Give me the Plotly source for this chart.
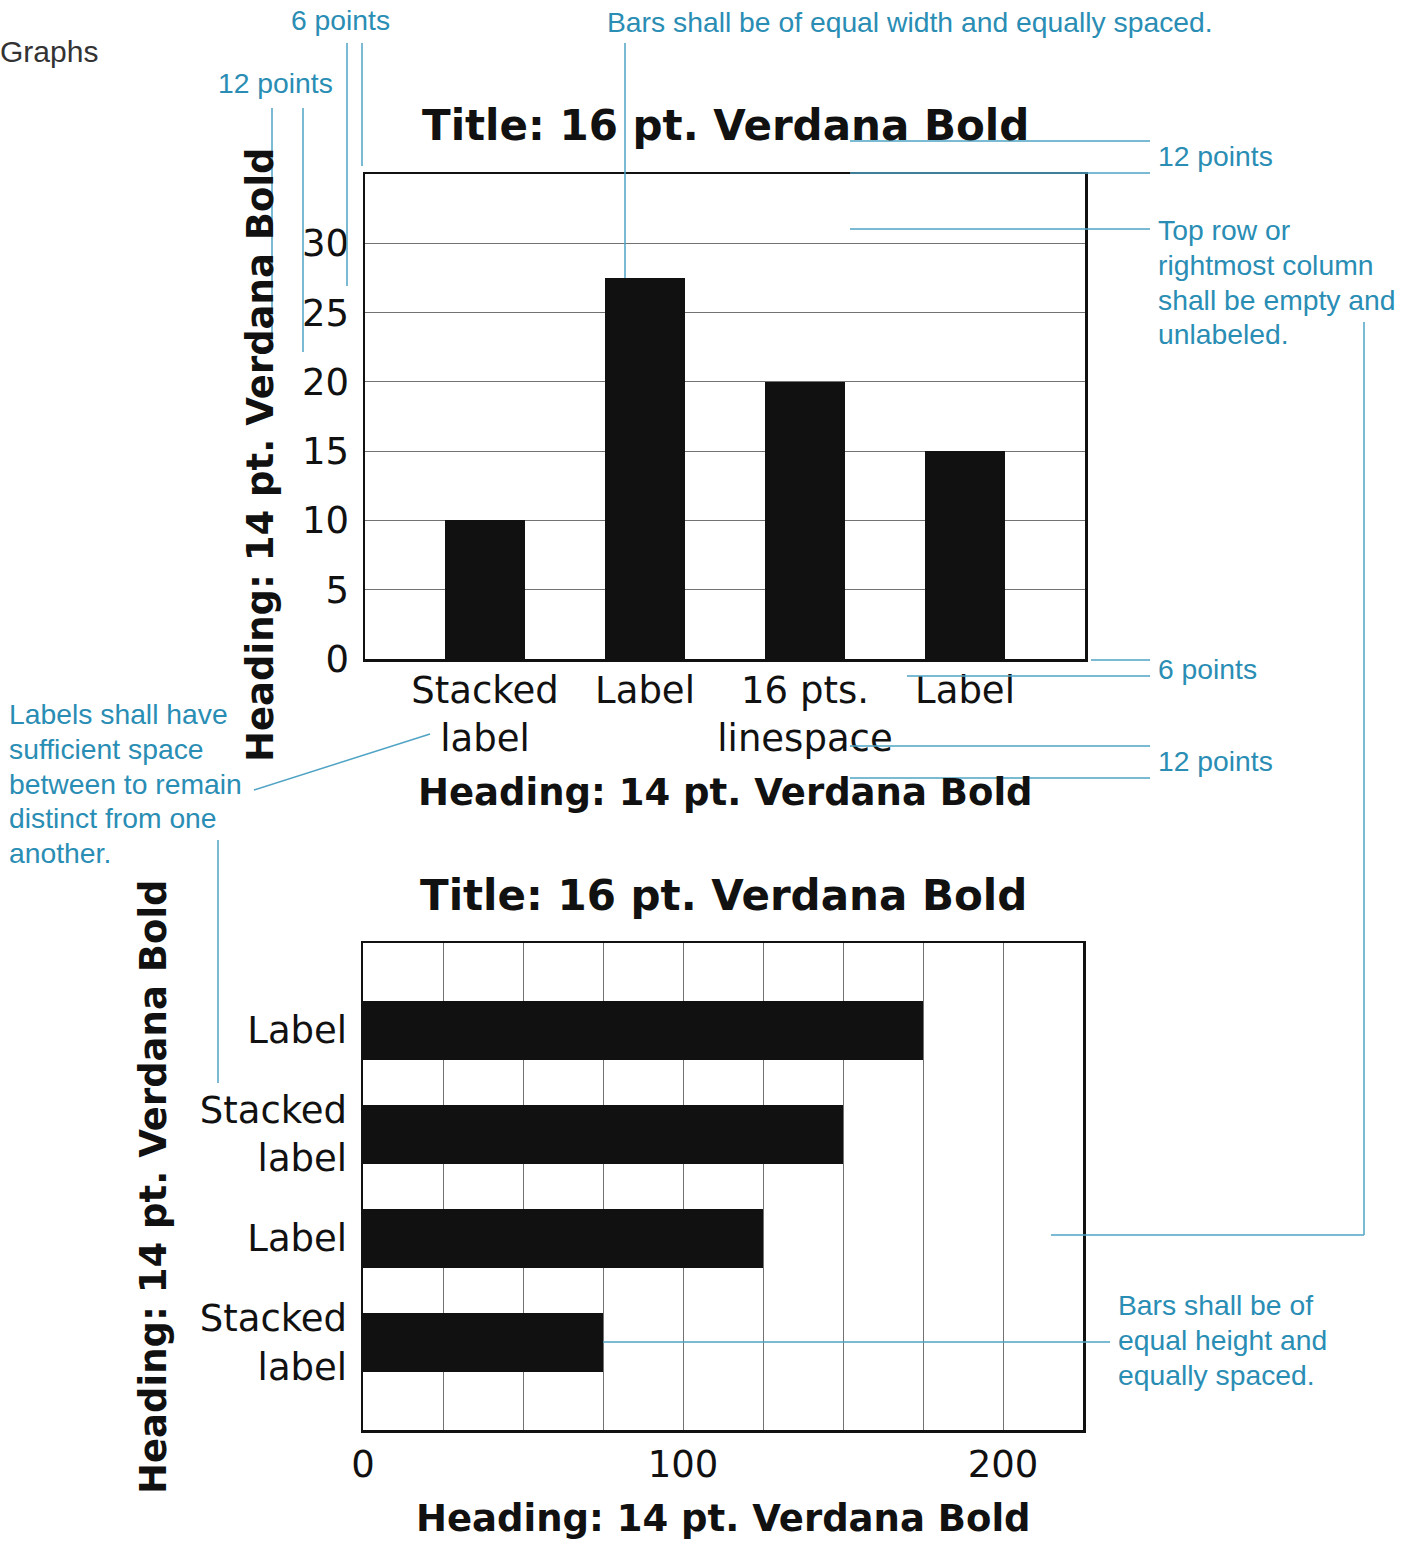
import plotly.graph_objects as go

# ---- data ----
v_categories = ["Stacked<br>label", "Label", "16 pts.<br>linespace", "Label"]
v_values = [10, 27.5, 20, 15]
v_ticks = [0, 5, 10, 15, 20, 25, 30]

h_categories = ["Label", "Stacked<br>label", "Label", "Stacked<br>label"]
h_values = [175, 150, 125, 75]
h_ticks = [0, 25, 50, 75, 100, 125, 150, 175, 200]
h_ticklabels = ["0", "", "", "", "100", "", "", "", "200"]

chart_title = "Title: 16 pt. Verdana Bold"
heading = "Heading: 14 pt. Verdana Bold"

W, H = 1413, 1541
def px(x):
    return x / W
def py(y):
    return 1 - y / H

TEAL_TXT = "#2a8db4"
TEAL_LN = "#4fa3c4"
INK = "#111111"
GRID = "#727272"
CF = "DejaVu Sans"
AF = "Liberation Sans"

fig = go.Figure()
fig.add_trace(go.Bar(x=list(range(len(v_values))), y=v_values, width=0.5,
                     marker=dict(color=INK, line=dict(width=0)),
                     xaxis="x", yaxis="y", showlegend=False, hoverinfo="skip"))
fig.add_trace(go.Bar(x=h_values, y=list(range(len(h_values))), orientation="h", width=0.56,
                     marker=dict(color=INK, line=dict(width=0)),
                     xaxis="x2", yaxis="y2", showlegend=False, hoverinfo="skip"))

tickfont = dict(family=CF, size=37, color=INK)
common = dict(automargin=False, zeroline=False, showline=True, linecolor=INK,
              linewidth=2.5, mirror=True, ticks="", fixedrange=True, tickfont=tickfont)
fig.update_layout(
    template="none",
    width=W, height=H, margin=dict(l=0, r=0, t=0, b=0, pad=0, autoexpand=False),
    paper_bgcolor="white", plot_bgcolor="white",
    bargap=0, showlegend=False,
    xaxis=dict(domain=[px(365), px(1085)], anchor="y", range=[-0.75, 3.75],
               tickvals=list(range(len(v_categories))), ticktext=v_categories,
               showgrid=False, ticklabelstandoff=-3, **common),
    yaxis=dict(domain=[py(659), py(174)], anchor="x", range=[0, 35],
               tickvals=v_ticks, showgrid=True, gridcolor=GRID, gridwidth=1,
               ticklabelstandoff=6, **common),
    xaxis2=dict(domain=[px(363), px(1083)], anchor="y2", range=[0, 225],
                tickvals=h_ticks, ticktext=h_ticklabels,
                showgrid=True, gridcolor=GRID, gridwidth=1,
                ticklabelstandoff=0, **common),
    yaxis2=dict(domain=[py(1430), py(943)], anchor="x2", range=[3.84, -0.84],
                tickvals=list(range(len(h_categories))), ticktext=h_categories,
                showgrid=False, ticklabelstandoff=6, **common),
)

ann = []
def txt(x, y, s, size, color, family, bold=False, xanchor="left", angle=0):
    ann.append(dict(xref="paper", yref="paper", x=px(x), y=py(y), text=("<b>%s</b>" % s) if bold else s,
                    showarrow=False, xanchor=xanchor, yanchor="middle", textangle=angle,
                    font=dict(family=family, size=size, color=color)))

# chart titles and headings
txt(725, 125, chart_title, 42, INK, CF, True, "center")
txt(725, 792, heading, 37, INK, CF, True, "center")
txt(260, 455, heading, 37, INK, CF, True, "center", -90)
txt(723, 895, chart_title, 42, INK, CF, True, "center")
txt(723, 1518, heading, 37, INK, CF, True, "center")
txt(153, 1187, heading, 37, INK, CF, True, "center", -90)

txt(-2, 51, "Graphs", 30, "#333333", AF)

def block(x, y0, lines, step=34.8):
    for i, s in enumerate(lines):
        txt(x, y0 + i * step, s, 28.3, TEAL_TXT, AF)

block(289, 20, ["6 points"])
block(216, 83, ["12 points"])
block(605, 22, ["Bars shall be of equal width and equally spaced."])
block(1156, 156, ["12 points"])
block(1156, 230, ["Top row or", "rightmost column", "shall be empty and", "unlabeled."])
block(1156, 669, ["6 points"])
block(1156, 761, ["12 points"])
block(7, 714, ["Labels shall have", "sufficient space", "between to remain", "distinct from one", "another."])
block(1116, 1305, ["Bars shall be of", "equal height and", "equally spaced."])

shapes = []
def line(x0, y0, x1, y1):
    shapes.append(dict(type="line", xref="paper", yref="paper", x0=px(x0), y0=py(y0), x1=px(x1), y1=py(y1),
                       line=dict(color=TEAL_LN, width=1.5), layer="above"))

line(347, 43, 347, 286)
line(362, 43, 362, 166)
line(272, 108, 272, 350)
line(303, 108, 303, 352)
line(625, 43, 625, 278)
line(850, 141, 1150, 141)
line(850, 173, 1150, 173)
line(850, 229, 1150, 229)
line(1364, 322, 1364, 1235)
line(1051, 1235, 1364, 1235)
line(1091, 660, 1150, 660)
line(907, 676, 1150, 676)
line(850, 746, 1150, 746)
line(850, 778, 1150, 778)
line(254, 790, 430, 734)
line(218, 840, 218, 1083)
line(603, 1342, 1110, 1342)

fig.update_layout(annotations=ann, shapes=shapes)

fig.write_html("out.html", config={"displayModeBar": False, "staticPlot": True},
               post_script="document.body.style.margin='0';document.body.style.overflow='hidden';")
